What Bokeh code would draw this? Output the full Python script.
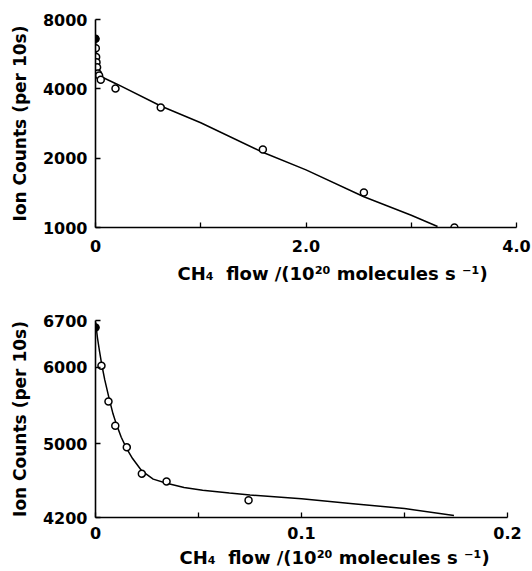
from bokeh.plotting import figure
from bokeh.layouts import column
from bokeh.models import FixedTicker, BasicTickFormatter, Title, Range1d
from bokeh.embed import file_html
from bokeh.resources import INLINE

# ---------------- data ----------------
# upper panel: full flow range (log ion-count axis)
top_flow = [0.0, 0.0029, 0.0063, 0.0096, 0.0152, 0.0225, 0.0345, 0.05, 0.19, 0.62, 1.59, 2.55, 3.41]
top_counts = [6600, 6000, 5500, 5220, 4960, 4660, 4570, 4380, 4010, 3320, 2180, 1420, 1000]
top_fit_flow = [0.0, 0.004, 0.01, 0.02, 0.035, 0.2, 0.62, 1.0, 1.6, 2.0, 2.55, 3.0, 3.25]
top_fit_counts = [6700, 5900, 5250, 4800, 4560, 4200, 3370, 2850, 2110, 1780, 1360, 1130, 1010]
top_x_ticks = [0, 2, 4]
top_x_minor = [1, 3]
top_x_labels = {0: "0", 2: "2.0", 4: "4.0"}
top_y_ticks = [1000, 2000, 4000, 8000]

# lower panel: low-flow region
bot_flow = [0.0, 0.0029, 0.0063, 0.0096, 0.0152, 0.0225, 0.0345, 0.0743]
bot_counts = [6590, 6020, 5530, 5220, 4960, 4660, 4575, 4375]
bot_fit_flow = [0.0, 0.001, 0.002, 0.003, 0.0045, 0.0066, 0.0085, 0.01, 0.0125, 0.015,
                0.018, 0.0225, 0.028, 0.0345, 0.043, 0.052, 0.065, 0.075, 0.1, 0.125,
                0.15, 0.174]
bot_fit_counts = [6680, 6420, 6220, 6040, 5820, 5570, 5370, 5250, 5080, 4950,
                  4830, 4690, 4600, 4555, 4510, 4480, 4450, 4430, 4390, 4340,
                  4290, 4220]
bot_x_ticks = [0, 0.1, 0.2]
bot_x_minor = [0.05, 0.15]
bot_x_labels = {0: "0", 0.1: "0.1", 0.2: "0.2"}
bot_y_ticks = [4200, 5000, 6000, 6700]

y_title = "Ion Counts (per 10s)"
x_title = "CH\u2084\u00a0\u00a0flow /(10\u00b2\u2070 molecules s\u00a0\u207b\u00b9)"

FONT = "DejaVu Sans"


def style(p, xt, xminor, xlabels, yt):
    p.outline_line_color = None
    p.xgrid.visible = False
    p.ygrid.visible = False
    p.background_fill_color = "white"
    p.border_fill_color = "white"
    p.xaxis.ticker = FixedTicker(ticks=xt, minor_ticks=xminor)
    p.xaxis.major_label_overrides = xlabels
    p.yaxis.ticker = FixedTicker(ticks=yt)
    p.yaxis.formatter = BasicTickFormatter(use_scientific=False)
    for ax in (p.xaxis[0], p.yaxis[0]):
        ax.axis_line_width = 1.6
        ax.axis_line_color = "black"
        ax.major_tick_in = 5
        ax.major_tick_out = 0
        ax.minor_tick_in = 5
        ax.minor_tick_out = 0
        ax.major_tick_line_width = 1.3
        ax.minor_tick_line_width = 1.3
        ax.major_label_text_font = FONT
        ax.major_label_text_font_style = "bold"
        ax.major_label_text_font_size = "16px"
        ax.major_label_text_color = "black"
    p.yaxis.major_label_standoff = 8
    p.xaxis.major_label_standoff = 12
    p.yaxis.axis_label = y_title
    p.yaxis.axis_label_text_font = FONT
    p.yaxis.axis_label_text_font_style = "bold"
    p.yaxis.axis_label_text_font_size = "17px"
    p.yaxis.axis_label_text_color = "black"
    p.yaxis.axis_label_standoff = 10


def add_xtitle(p, offset, standoff):
    t = Title(text=x_title, align="left", offset=offset, text_font=FONT,
              text_font_style="bold", text_font_size="18px", text_color="black",
              standoff=standoff)
    p.add_layout(t, "below")


# ---------------- upper panel ----------------
top = figure(frame_width=421, frame_height=208, y_axis_type="log",
             x_range=Range1d(0, 4), y_range=Range1d(1000, 8000),
             min_border_left=95, min_border_right=16, min_border_top=19, min_border_bottom=71,
             output_backend="svg", toolbar_location=None)
style(top, top_x_ticks, top_x_minor, top_x_labels, top_y_ticks)
add_xtitle(top, 82, 13)
top.line(top_fit_flow, top_fit_counts, line_color="black", line_width=1.5)
top.scatter(top_flow, top_counts, marker="circle", size=7, line_color="black",
            line_width=1.5, fill_color="white")
top.scatter(top_flow[:1], top_counts[:1], marker="circle", size=7, line_color="black",
            fill_color="black")

# ---------------- lower panel ----------------
bot = figure(frame_width=412, frame_height=197, y_axis_type="log",
             x_range=Range1d(0, 0.2), y_range=Range1d(4200, 6700),
             min_border_left=93, min_border_right=27, min_border_top=22, min_border_bottom=54,
             output_backend="svg", toolbar_location=None)
style(bot, bot_x_ticks, bot_x_minor, bot_x_labels, bot_y_ticks)
bot.xaxis.major_label_standoff = 9
add_xtitle(bot, 84, 6)
bot.line(bot_fit_flow, bot_fit_counts, line_color="black", line_width=1.5)
bot.scatter(bot_flow, bot_counts, marker="circle", size=7, line_color="black",
            line_width=1.5, fill_color="white")
bot.scatter(bot_flow[:1], bot_counts[:1], marker="circle", size=7, line_color="black",
            fill_color="black")

layout = column(top, bot, spacing=0)
open("out.html", "w").write(file_html(layout, INLINE))
